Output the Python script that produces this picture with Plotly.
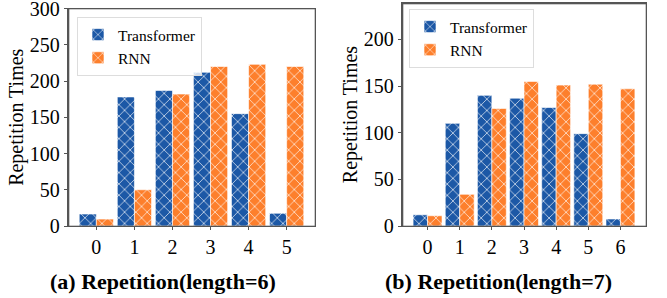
import plotly.graph_objects as go

# ---- data ----
cats_a = [0, 1, 2, 3, 4, 5]
transformer_a = [16.5, 178, 187, 212, 155, 17.5]
rnn_a = [9.5, 50, 182, 220, 223, 220]

cats_b = [0, 1, 2, 3, 4, 5, 6]
transformer_b = [12, 110, 140, 137, 127, 99, 7.5]
rnn_b = [11, 34, 126, 155, 151, 152, 147]

yticks_a = [0, 50, 100, 150, 200, 250, 300]
yticks_b = [0, 50, 100, 150, 200]
captions = ["(a) Repetition(length=6)", "(b) Repetition(length=7)"]

BLUE = "#1c58a6"
ORANGE = "#fd7f2c"
W, H = 667, 298
FONT = "Liberation Serif"
FRAME = "#555555"

# plot-area boxes in pixels (left, right, top, bottom)
box_a = (68, 315, 8.5, 226)
box_b = (402, 646, 3, 226)


def pat(col):
    return dict(shape="x", fgcolor="#ffffff", fgopacity=0.85, bgcolor=col,
                size=8, solidity=0.18, fillmode="replace")


fig = go.Figure()
for name, col, ya, yb in [("Transformer", BLUE, transformer_a, transformer_b),
                          ("RNN", ORANGE, rnn_a, rnn_b)]:
    fig.add_trace(go.Bar(x=cats_a, y=ya, name=name, xaxis="x", yaxis="y",
                         legend="legend",
                         marker=dict(color=col, pattern=pat(col),
                                     line=dict(color="#ffffff", width=0.6))))
    fig.add_trace(go.Bar(x=cats_b, y=yb, name=name, xaxis="x2", yaxis="y2",
                         legend="legend2",
                         marker=dict(color=col, pattern=pat(col),
                                     line=dict(color="#ffffff", width=0.6))))


def axis_common():
    return dict(showline=True, mirror=True, linecolor=FRAME, linewidth=1.3,
                ticks="outside", ticklen=3, tickcolor=FRAME,
                tickwidth=1, showgrid=False, zeroline=False, automargin=False,
                ticklabeloverflow="allow",
                tickfont=dict(family=FONT, size=20, color="black"))


def frame_box(xr, yr, box):
    l, r, t, b = box
    return dict(text=" ", xref=xr + " domain", yref=yr + " domain", x=0.5, y=0.5,
                xanchor="center", yanchor="middle", showarrow=False,
                width=(r - l) - 1.3, height=(b - t) - 1.3, borderpad=0,
                bordercolor=FRAME, borderwidth=1.3, bgcolor="rgba(0,0,0,0)")


def caption(text, xc):
    return dict(text="<b>" + text + "</b>", x=xc / W, y=1 - 281 / H,
                xref="paper", yref="paper", showarrow=False, xanchor="center",
                yanchor="middle", font=dict(family=FONT, size=22))


fig.update_layout(
    template="none",
    width=W, height=H, autosize=False,
    margin=dict(l=0, r=0, t=0, b=0, pad=0),
    paper_bgcolor="white", plot_bgcolor="white",
    barmode="group", bargap=0.1, bargroupgap=0,
    font=dict(family=FONT, color="black"),
    xaxis=dict(domain=[box_a[0] / W, box_a[1] / W], range=[-0.745, 5.745],
               tickvals=cats_a, anchor="y", **axis_common()),
    yaxis=dict(domain=[1 - box_a[3] / H, 1 - box_a[2] / H], range=[0, 300],
               tickvals=yticks_a, anchor="x",
               title=dict(text="Repetition Times", standoff=0,
                          font=dict(family=FONT, size=20)),
               **axis_common()),
    xaxis2=dict(domain=[box_b[0] / W, box_b[1] / W], range=[-0.795, 6.795],
                tickvals=cats_b, anchor="y2", **axis_common()),
    yaxis2=dict(domain=[1 - box_b[3] / H, 1 - box_b[2] / H], range=[0, 239],
                tickvals=yticks_b, anchor="x2",
                title=dict(text="Repetition Times", standoff=0,
                           font=dict(family=FONT, size=20)),
                **axis_common()),
    legend=dict(x=77 / W, y=1 - 17 / H, xanchor="left", yanchor="top",
                bgcolor="rgba(255,255,255,0.8)", bordercolor="#dddddd", borderwidth=1,
                font=dict(family=FONT, size=15.5)),
    legend2=dict(x=409 / W, y=1 - 9 / H, xanchor="left", yanchor="top",
                 bgcolor="rgba(255,255,255,0.8)", bordercolor="#dddddd", borderwidth=1,
                 font=dict(family=FONT, size=15.5)),
    annotations=[
        frame_box("x", "y", box_a),
        frame_box("x2", "y2", box_b),
        caption(captions[0], 163),
        caption(captions[1], 498),
    ],
)

fig.write_html("out.html", config={"displayModeBar": False},
               post_script="document.body.style.margin='0';document.body.style.padding='0';")
